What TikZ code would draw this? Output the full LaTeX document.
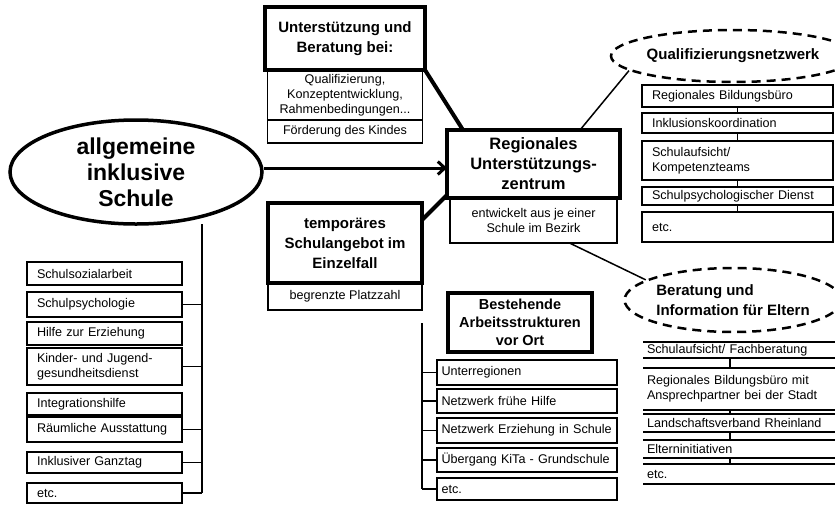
\documentclass[tikz,border=0pt]{standalone}
\usepackage{fontspec}
\setmainfont{Liberation Sans}
\usepackage{tikz}
\usetikzlibrary{shapes.geometric}
\usetikzlibrary{arrows.meta,positioning}
\newcommand{\klein}{\fontsize{12.6}{15}\selectfont}
\newcommand{\titel}{\fontsize{15}{20}\selectfont\bfseries}

\begin{document}
\begin{tikzpicture}[
x=1pt,y=-1pt,
kopf/.style={draw,line width=4pt,font=\titel,align=center,inner sep=0pt,outer sep=0pt,anchor=north west},
feld/.style={draw,line width=1.5pt,font=\klein,align=center,inner sep=0pt,outer sep=0pt,anchor=north west},
zeile/.style={feld,align=left,text width=#1},
leiste/.style={font=\klein,align=left,inner sep=0pt,outer sep=0pt,inner xsep=4pt,text width=184pt,anchor=north west},
wolke/.style={ellipse,draw,line width=2.5pt,dash pattern=on 9pt off 6pt,font=\titel,inner sep=0pt},
verb/.style={line width=1.5pt},
balken/.style={line width=4pt},
pfeil/.style={line width=3pt,-{Straight Barb[length=7pt,width=13pt]}},
]
\useasboundingbox (0,0) rectangle (835,504);

% Schule
\node[ellipse,draw,line width=3.5pt,font=\fontsize{23}{26}\selectfont\bfseries,align=center,
  minimum width=252pt,minimum height=104pt,inner sep=0pt] (schule) at (136,172)
  {allgemeine\\inklusive\\Schule};

% Unterstuetzung und Beratung
\node[kopf,minimum width=160pt,minimum height=63pt] (unter) at (265,7) {Unterstützung und\\Beratung bei:};
\node[feld,minimum width=155pt,minimum height=50pt,below=0pt of unter] (quali)
  {Qualifizierung,\\Konzeptentwicklung,\\Rahmenbedingungen...};
\node[feld,minimum width=155pt,minimum height=23pt,below=0pt of quali] (foerd) {Förderung des Kindes};

% temporaeres Schulangebot
\node[kopf,minimum width=154pt,minimum height=80pt] (temp) at (268,203) {temporäres\\Schulangebot im\\Einzelfall};
\node[feld,minimum width=154pt,minimum height=27pt,below=0pt of temp] (platz) {begrenzte Platzzahl};

% Regionales Unterstuetzungszentrum
\node[kopf,minimum width=173pt,minimum height=68pt,font=\fontsize{16.5}{20}\selectfont\bfseries] (rz) at (447,130)
  {Regionales\\Unterstützungs-\\zentrum};
\node[feld,minimum width=167pt,minimum height=45pt,below=0pt of rz] (entw) {entwickelt aus je einer\\Schule im Bezirk};

% Netzwerke
\node[wolke,minimum width=200pt,minimum height=52pt] (qn) at (733,56) {Qualifizierungsnetzwerk};
\node[wolke,minimum width=200pt,minimum height=64pt,align=left] (be) at (733,300) {Beratung und\\Information für Eltern};

% Liste links
\node[zeile=135pt,inner xsep=10pt,minimum height=23pt] (s1) at (27,262) {Schulsozialarbeit};
\node[zeile=135pt,inner xsep=10pt,minimum height=25pt,below=7pt of s1] (s2) {Schulpsychologie};
\node[zeile=135pt,inner xsep=10pt,minimum height=23pt,below=5pt of s2] (s3) {Hilfe zur Erziehung};
\node[zeile=135pt,inner xsep=10pt,minimum height=37pt,below=3pt of s3] (s4) {Kinder- und Jugend-\\gesundheitsdienst};
\node[zeile=135pt,inner xsep=10pt,minimum height=22pt,below=8pt of s4] (s5) {Integrationshilfe};
\node[zeile=135pt,inner xsep=10pt,minimum height=25pt,below=2pt of s5] (s6) {Räumliche Ausstattung};
\node[zeile=135pt,inner xsep=10pt,minimum height=21pt,below=10pt of s6] (s7) {Inklusiver Ganztag};
\node[zeile=135pt,inner xsep=10pt,minimum height=20pt,below=10pt of s7] (s8) {etc.};

% Liste Qualifizierungsnetzwerk
\node[zeile=171pt,inner xsep=10pt,minimum height=22pt] (rb) at (642,85) {Regionales Bildungsbüro};
\node[zeile=171pt,inner xsep=10pt,minimum height=20pt,below=6pt of rb] (ik) {Inklusionskoordination};
\node[zeile=171pt,inner xsep=10pt,minimum height=39pt,below=8pt of ik] (sa) {Schulaufsicht/\\Kompetenzteams};
\node[zeile=171pt,inner xsep=10pt,minimum height=18pt,below=7pt of sa] (sd) {Schulpsychologischer Dienst};
\node[zeile=171pt,inner xsep=10pt,minimum height=30pt,below=7pt of sd] (etca) {etc.};

% Bestehende Arbeitsstrukturen
\node[kopf,minimum width=144pt,minimum height=59pt,font=\fontsize{14.5}{18}\selectfont\bfseries] (ort) at (448,293)
  {Bestehende\\Arbeitsstrukturen\\vor Ort};
\node[zeile=171pt,inner xsep=4.5pt,minimum height=25pt] (u1) at (437,360) {Unterregionen};
\node[zeile=171pt,inner xsep=4.5pt,minimum height=24pt,below=4pt of u1] (u2) {Netzwerk frühe Hilfe};
\node[zeile=171pt,inner xsep=4.5pt,minimum height=25pt,below=5pt of u2] (u3) {Netzwerk Erziehung in Schule};
\node[zeile=171pt,inner xsep=4.5pt,minimum height=24pt,below=5pt of u3] (u4) {Übergang KiTa - Grundschule};
\node[zeile=171pt,inner xsep=4.5pt,minimum height=22pt,below=6pt of u4] (u5) {etc.};

% Liste Beratung
\node[leiste,minimum height=16pt] (e1) at (643,342) {Schulaufsicht/ Fachberatung};
\node[leiste,minimum height=42pt,below=10pt of e1] (e2) {Regionales Bildungsbüro mit\\Ansprechpartner bei der Stadt};
\node[leiste,minimum height=18pt,below=4pt of e2] (e3) {Landschaftsverband Rheinland};
\node[leiste,minimum height=18pt,below=8pt of e3] (e4) {Elterninitiativen};
\node[leiste,minimum height=20pt,below=6pt of e4] (e5) {etc.};

% Verbindungen
\draw[pfeil] ([yshift=4pt]schule.east) -- ([yshift=4pt]schule.east -| rz.west);
\draw[balken] (unter.south east) -- ([xshift=16pt]rz.north west);
\draw[balken] ([yshift=-17pt]temp.north east) -- ([yshift=3pt]rz.south west);
\draw[verb] ([xshift=-40pt]rz.north east) -- (qn.188);
\draw[verb] ([xshift=36pt]entw.south) -- (be.167);

\coordinate (lbus) at (202,493);
\draw[verb] (lbus |- schule.-60) -- (lbus);
\foreach \n in {s2,s4,s6,s7,s8}
  \draw[verb] (\n.east) -- (\n.east -| lbus);

\coordinate (mbus) at (422,323);
\draw[verb] (mbus) -- (mbus |- u5.west);
\foreach \n in {u1,u2,u3,u4,u5}
  \draw[verb] (\n.west -| mbus) -- (\n.west);

\foreach \a/\b in {rb/ik,ik/sa,sa/sd,sd/etca}
  \draw[verb] (\a.south) -- (\b.north);

\foreach \n in {e1,e2,e3,e4,e5}
  \draw[verb] (\n.north west) -- (\n.north east) (\n.south west) -- (\n.south east);
\foreach \a/\b in {e1/e2,e2/e3,e3/e4,e4/e5}
  \draw[verb] ([xshift=-9pt]\a.south) -- ([xshift=-9pt]\b.north);
\end{tikzpicture}
\end{document}
